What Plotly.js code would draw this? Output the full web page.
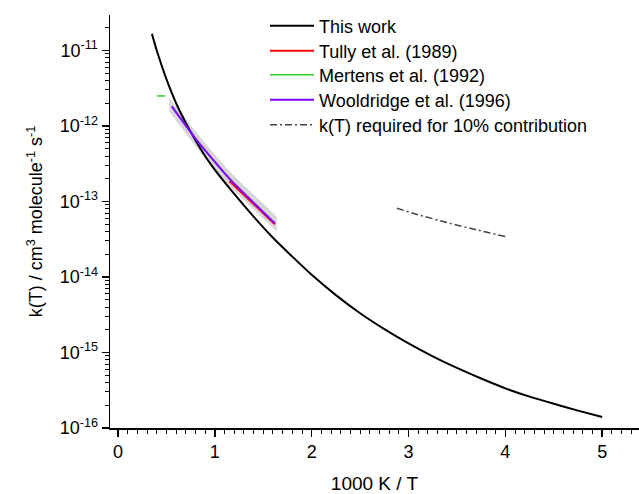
<!DOCTYPE html>
<html>
<head>
<meta charset="utf-8">
<script src="https://cdn.plot.ly/plotly-3.0.1.min.js"></script>
<style>html,body{margin:0;padding:0;background:#fff;}#chart{width:639px;height:494px;}</style>
</head>
<body>
<div id="chart"></div>
<script>
// ---- data ----
const thisWorkX = [0.35, 0.4, 0.5, 0.6, 0.7, 0.8, 0.9, 1.0, 1.2, 1.4, 1.6, 1.8, 2.0, 2.25, 2.5, 2.75, 3.0, 3.25, 3.5, 3.75, 4.0, 4.25, 4.5, 4.75, 5.0];
const thisWorkK = [1.66e-11, 1.0e-11, 4.17e-12, 2.0e-12, 1.10e-12, 6.46e-13, 3.98e-13, 2.63e-13, 1.26e-13, 6.31e-14, 3.31e-14, 1.86e-14, 1.07e-14, 5.75e-15, 3.31e-15, 2.04e-15, 1.32e-15, 8.91e-16, 6.24e-16, 4.52e-16, 3.35e-16, 2.60e-16, 2.09e-16, 1.70e-16, 1.40e-16];

const tullyX = [1.15, 1.62];
const tullyK = [1.86e-13, 5.0e-14];

const mertensX = [0.40, 0.485];
const mertensK = [2.5e-12, 2.5e-12];

const wooldridgeX = [0.555, 0.82, 1.16, 1.62];
const wooldridgeK = [1.82e-12, 6.3e-13, 1.95e-13, 5.13e-14];
const bandX = [0.53, 0.82, 1.16, 1.64];
const wooldridgeUpper = [2.35e-12, 7.9e-13, 2.45e-13, 6.3e-14];
const wooldridgeLower = [1.55e-12, 5.0e-13, 1.55e-13, 4.05e-14];

const requiredX = [2.88, 3.1, 3.4, 3.7, 4.0];
const requiredK = [8.13e-14, 6.68e-14, 5.25e-14, 4.22e-14, 3.43e-14];

const seriesNames = ["This work", "Tully et al. (1989)", "Mertens et al. (1992)", "Wooldridge et al. (1996)", "k(T) required for 10% contribution"];
const xTickVals = [0, 1, 2, 3, 4, 5];
const yTickVals = [1e-16, 1e-15, 1e-14, 1e-13, 1e-12, 1e-11];
const yTickText = ["10<sup>-16</sup>", "10<sup>-15</sup>", "10<sup>-14</sup>", "10<sup>-13</sup>", "10<sup>-12</sup>", "10<sup>-11</sup>"];

// ---- plot ----
const FONT = "Liberation Sans, Arial, sans-serif";
const W = 639, H = 494, ML = 110, MR = 0, MT = 15, MB = 66;
const pw = W - ML - MR, ph = H - MT - MB;
function px2paperX(px) { return (px - ML) / pw; }
function px2paperY(py) { return (H - MB - py) / ph; }

const traces = [
  {x: bandX, y: wooldridgeLower, mode: 'lines', line: {width: 0, color: 'rgba(0,0,0,0)', shape: 'spline', smoothing: 0.5}, showlegend: false, hoverinfo: 'skip'},
  {x: bandX, y: wooldridgeUpper, mode: 'lines', line: {width: 0, color: 'rgba(0,0,0,0)', shape: 'spline', smoothing: 0.5}, fill: 'tonexty', fillcolor: 'rgba(200,200,200,0.75)', showlegend: false, hoverinfo: 'skip'},
  {x: thisWorkX, y: thisWorkK, mode: 'lines', name: seriesNames[0], line: {color: '#000000', width: 2, shape: 'spline', smoothing: 0.5}, legend: 'legend'},
  {x: tullyX, y: tullyK, mode: 'lines', name: seriesNames[1], line: {color: '#ff0000', width: 2}, legend: 'legend2'},
  {x: mertensX, y: mertensK, mode: 'lines', name: seriesNames[2], line: {color: '#33cc33', width: 1.5}, legend: 'legend3'},
  {x: wooldridgeX, y: wooldridgeK, mode: 'lines', name: seriesNames[3], line: {color: '#7f00ff', width: 2, shape: 'spline', smoothing: 0.5}, legend: 'legend4'},
  {x: requiredX, y: requiredK, mode: 'lines', name: seriesNames[4], line: {color: '#444444', width: 1.5, dash: '7px,3px,2px,3px', shape: 'spline', smoothing: 0.5}, legend: 'legend5'}
];

const legendY = [26, 51, 75, 100, 125];
function mkLegend(py) {
  return {x: px2paperX(265), xanchor: 'left', y: px2paperY(py), yanchor: 'middle',
          bgcolor: 'rgba(0,0,0,0)', borderwidth: 0, itemwidth: 44,
          font: {family: FONT, size: 18, color: '#000'}};
}

const layout = {
  width: W, height: H,
  margin: {l: ML, r: MR, t: MT, b: MB},
  paper_bgcolor: '#fff', plot_bgcolor: '#fff',
  font: {family: FONT, size: 18, color: '#000'},
  showlegend: true,
  legend: mkLegend(legendY[0]),
  legend2: mkLegend(legendY[1]),
  legend3: mkLegend(legendY[2]),
  legend4: mkLegend(legendY[3]),
  legend5: mkLegend(legendY[4]),
  xaxis: {
    range: [-0.083, 5.38], showgrid: false, zeroline: false,
    showline: true, linecolor: '#000', linewidth: 1.5,
    ticks: 'outside', ticklen: 7, tickwidth: 1.5, tickcolor: '#000',
    tickmode: 'array', tickvals: xTickVals,
    tickfont: {family: FONT, size: 18, color: '#000'},
    minor: {dtick: 0.1, ticks: 'outside', ticklen: 4, tickwidth: 1, tickcolor: '#000', showgrid: false},
    title: {text: '1000 K / T', font: {family: FONT, size: 19, color: '#000'}, standoff: 17}
  },
  yaxis: {
    type: 'log', range: [-16, -10.53], showgrid: false, zeroline: false,
    showline: true, linecolor: '#000', linewidth: 1.5,
    ticks: 'outside', ticklen: 7, tickwidth: 1.5, tickcolor: '#000',
    tickmode: 'array', tickvals: yTickVals, ticktext: yTickText,
    tickfont: {family: FONT, size: 18, color: '#000'},
    minor: {dtick: 'D1', ticks: 'outside', ticklen: 4, tickwidth: 1, tickcolor: '#000', showgrid: false},
    title: {text: 'k(T) / cm<sup>3</sup> molecule<sup>-1</sup> s<sup>-1</sup>', font: {family: FONT, size: 18, color: '#000'}, standoff: 12}
  }
};

Plotly.newPlot('chart', traces, layout, {displayModeBar: false, staticPlot: true});
</script>
</body>
</html>
